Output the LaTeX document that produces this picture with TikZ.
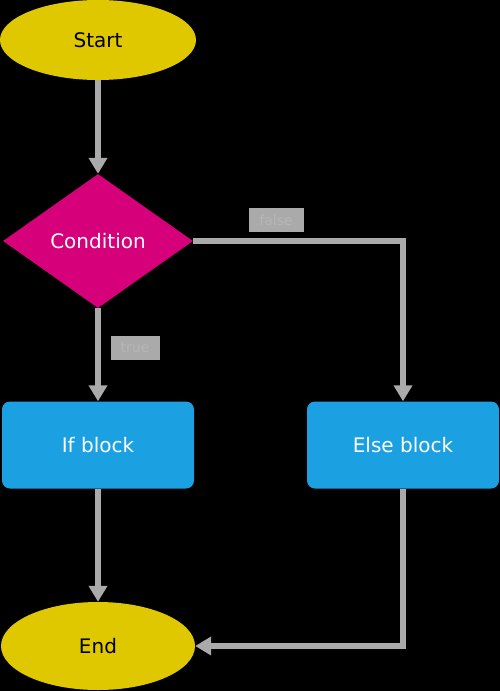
\documentclass[tikz,border=0pt]{standalone}
\usepackage{fontspec}
\setmainfont{DejaVu Sans}
\usetikzlibrary{arrows.meta,positioning,calc,shapes.geometric}

\definecolor{startyellow}{RGB}{224,200,0}
\definecolor{condpink}{RGB}{214,0,122}
\definecolor{blockblue}{RGB}{27,161,226}
\definecolor{linegray}{RGB}{170,170,170}
\definecolor{labelgray}{RGB}{182,182,182}

\tikzset{
  terminal/.style={ellipse,fill=startyellow,minimum width=196pt,minimum height=80pt,inner sep=0pt,font=\fontsize{20}{24}\selectfont},
  decision/.style={diamond,fill=condpink,minimum width=190pt,minimum height=134pt,inner sep=0pt,text=white,font=\fontsize{20}{24}\selectfont},
  block/.style={rectangle,rounded corners=8pt,fill=blockblue,minimum width=192pt,minimum height=87pt,text=white,font=\fontsize{20}{24}\selectfont},
  flow/.style={draw=linegray,line width=6pt,-{Stealth[length=16pt,width=18pt,inset=0pt]}},
  tag/.style={fill=linegray,text=labelgray,font=\fontsize{14}{16}\selectfont,minimum height=24pt,inner xsep=6pt}
}

\begin{document}
\begin{tikzpicture}[x=1pt,y=-1pt]
\fill[black] (0,0) rectangle (500,691);
\useasboundingbox (0,0) rectangle (500,691);

\node[terminal] (start) at (98,40) {Start};
\node[decision] (cond) at (98,241) {Condition};
\node[block] (ifb) at (98,445) {If block};
\node[block] (elseb) at (403,445) {Else block};
\node[terminal,minimum width=194pt,minimum height=88pt] (end) at (98,646) {End};

\draw[flow] (start) -- (cond);
\draw[flow] (cond) -- (ifb);
\draw[flow] (cond.east) -| (elseb);
\draw[flow] (ifb) -- (end);
\draw[flow] (elseb) |- (end.east);

\node[tag,minimum width=55pt] (falsetag) at (276,220) {false};
\node[tag,minimum width=49pt] (truetag) at (135,348) {true};
\end{tikzpicture}
\end{document}
